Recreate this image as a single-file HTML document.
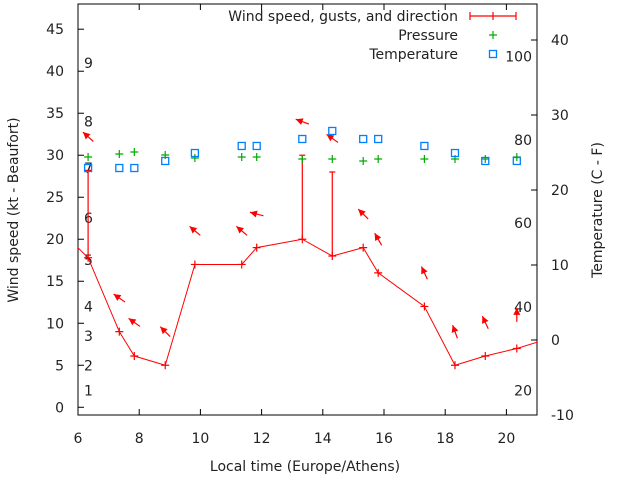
<!DOCTYPE html>
<html><head><meta charset="utf-8">
<style>
body{margin:0;background:#fff;}
svg{display:block;font-family:"DejaVu Sans","Liberation Sans",sans-serif;}
text{font-size:14px;fill:#222;}
</style></head>
<body>
<svg id="chart" width="640" height="480" viewBox="0 0 640 480" xmlns="http://www.w3.org/2000/svg">
<rect x="0" y="0" width="640" height="480" fill="#fff"/>
<g id="plot"></g>
</svg>
<script>
// ---- data ----
const hours = [6.33, 7.35, 7.84, 8.85, 9.82, 11.35, 11.84, 13.33, 14.31, 15.32, 15.81, 17.32, 18.32, 19.31, 20.34];
const windSpeed = [17.8, 9, 6.1, 5, 17, 17, 19, 20, 18, 19, 16, 12, 5, 6.1, 7];
const windGust = [28.2, 9, 6.1, 5, 17, 17, 19, 30, 28, 19, 16, 12, 5, 6.1, 7];
const windDir = [312, 305, 305, 315, 310, 310, 285, 290, 305, 315, 330, 335, 340, 335, 0];
const pressure = [24.4, 24.8, 25.07, 24.67, 24.27, 24.4, 24.4, 24.13, 24.13, 23.87, 24.13, 24.13, 24.13, 24.13, 24.4];
const temperature = [22.93, 22.93, 22.93, 23.87, 24.93, 25.87, 25.87, 26.8, 27.87, 26.8, 26.8, 25.87, 24.93, 23.87, 23.87];
const edgeHours = [5.3, 21.5];
const edgeSpeed = [21.5, 8.3];
const xTicks = [6, 8, 10, 12, 14, 16, 18, 20];
const yTicks = [0, 5, 10, 15, 20, 25, 30, 35, 40, 45];
const y2Ticks = [-10, 0, 10, 20, 30, 40];
const beaufortLabels = ["1", "2", "3", "4", "5", "6", "7", "8", "9"];
const beaufortKt = [2, 5, 8.5, 12, 17.5, 22.5, 28.5, 34, 41];
const fahrenheitLabels = ["20", "40", "60", "80", "100"];
const fahrenheitC = [-6.7, 4.4, 15.6, 26.7, 37.8];

// ---- axes ----
const L = 78, R = 537, T = 4, B = 415;
const xMin = 6, xMax = 21, yMin = -0.92, yMax = 48, y2Min = -10, y2Max = 44.8;
const X = v => L + (v - xMin) / (xMax - xMin) * (R - L);
const Y = v => B - (v - yMin) / (yMax - yMin) * (B - T);
const Y2 = v => B - (v - y2Min) / (y2Max - y2Min) * (B - T);

const NS = "http://www.w3.org/2000/svg";
const plot = document.getElementById("plot");
function mk(tag, attrs, parent) {
  const e = document.createElementNS(NS, tag);
  for (const k in attrs) e.setAttribute(k, attrs[k]);
  (parent || plot).appendChild(e);
  return e;
}
function txt(x, y, s, anchor, parent) {
  const t = mk("text", {x: x, y: y, "text-anchor": anchor || "middle"}, parent);
  t.textContent = s;
  return t;
}

const defs = mk("defs", {});
const cp = mk("clipPath", {id: "clip"}, defs);
mk("rect", {x: L, y: T, width: R - L, height: B - T}, cp);

const frame = mk("rect", {x: L, y: T, width: R - L, height: B - T, fill: "none", stroke: "#000", "stroke-width": 1});



xTicks.forEach(v => {
  const x = X(v);
  const t1 = mk("line", {x1: x, y1: B, x2: x, y2: B - 6, stroke: "#000"});
  
  
  const t2 = mk("line", {x1: x, y1: T, x2: x, y2: T + 6, stroke: "#000"});
  
  
  const lb = txt(x, 443, String(v));
  
  
});
yTicks.forEach(v => {
  const y = Y(v);
  const t1 = mk("line", {x1: L, y1: y, x2: L + 6, y2: y, stroke: "#000"});
  
  
  const lb = txt(L - 14, y + 5, String(v), "end");
  
  
});
y2Ticks.forEach(v => {
  const y = Y2(v);
  const t1 = mk("line", {x1: R, y1: y, x2: R - 6, y2: y, stroke: "#000"});
  
  
  const lb = txt(R + 14, y + 5, String(v), "start");
  
  
});
beaufortLabels.forEach((s, i) => {
  const lb = txt(84, Y(beaufortKt[i]) + 5, s, "start");
  
  
});
fahrenheitLabels.forEach((s, i) => {
  const lb = txt(532, Y2(fahrenheitC[i]) + 5, s, "end");
  
  
});

const yt = txt(0, 0, "Wind speed (kt - Beaufort)");
yt.setAttribute("transform", "translate(18,210) rotate(-90)");


const y2t = txt(0, 0, "Temperature (C - F)");
y2t.setAttribute("transform", "translate(602,210) rotate(-90)");


const xt = txt(305, 471, "Local time (Europe/Athens)");



const g = mk("g", {"clip-path": "url(#clip)"});



let pts = [[X(edgeHours[0]), Y(edgeSpeed[0])]];
hours.forEach((h, i) => pts.push([X(h), Y(windSpeed[i])]));
pts.push([X(edgeHours[1]), Y(edgeSpeed[1])]);
const wl = mk("polyline", {points: pts.map(p => p.join(",")).join(" "), fill: "none", stroke: "#f00", "stroke-width": 1}, g);



function plus(x, y, color, name) {
  const p = mk("path", {d: `M${x-4},${y}H${x+4}M${x},${y-4}V${y+4}`, stroke: color, "stroke-width": 1.2, fill: "none"}, g);
  
  
}

hours.forEach((h, i) => {
  const x = X(h);
  plus(x, Y(windSpeed[i]), "#f00", "wind-speed-point");
  if (windGust[i] > windSpeed[i]) {
    const gb = mk("path", {d: `M${x},${Y(windSpeed[i])}V${Y(windGust[i])}M${x-3},${Y(windGust[i])}H${x+3}`, stroke: "#f00", "stroke-width": 1.2, fill: "none"}, g);
    
    
  }
  const cy = Y(Math.max(windSpeed[i], windGust[i]) + 4);
  const a = windDir[i] * Math.PI / 180;
  const dx = Math.sin(a), dy = -Math.cos(a);
  const len = 14;
  const hx = x + dx * len / 2, hy = cy + dy * len / 2;
  const tx = x - dx * len / 2, ty = cy - dy * len / 2;
  const px = -dy, py = dx;
  const ar = mk("g", {}, g);
  
  
  mk("line", {x1: tx, y1: ty, x2: hx, y2: hy, stroke: "#f00", "stroke-width": 1.2}, ar);
  mk("polygon", {points: `${hx},${hy} ${hx - dx*7 + px*3.5},${hy - dy*7 + py*3.5} ${hx - dx*7 - px*3.5},${hy - dy*7 - py*3.5}`, fill: "#f00"}, ar);
  plus(x, Y2(pressure[i]), "#0a0", "pressure-point");
  const sq = mk("rect", {x: x - 3.5, y: Y2(temperature[i]) - 3.5, width: 7, height: 7, fill: "none", stroke: "#0080ff", "stroke-width": 1.3}, g);
  
  
});

const lg = mk("g", {});


const l1 = txt(458, 21, "Wind speed, gusts, and direction", "end", lg);


mk("path", {d: "M470,16H516M470,12V20M516,12V20M493,12V20", stroke: "#f00", "stroke-width": 1.2, fill: "none"}, lg);
const l2 = txt(458, 40, "Pressure", "end", lg);


mk("path", {d: "M489,35H497M493,31V39", stroke: "#0a0", "stroke-width": 1.2}, lg);
const l3 = txt(458, 59, "Temperature", "end", lg);


mk("rect", {x: 489.5, y: 50.5, width: 7, height: 7, fill: "none", stroke: "#0080ff", "stroke-width": 1.3}, lg);
</script>
</body></html>
